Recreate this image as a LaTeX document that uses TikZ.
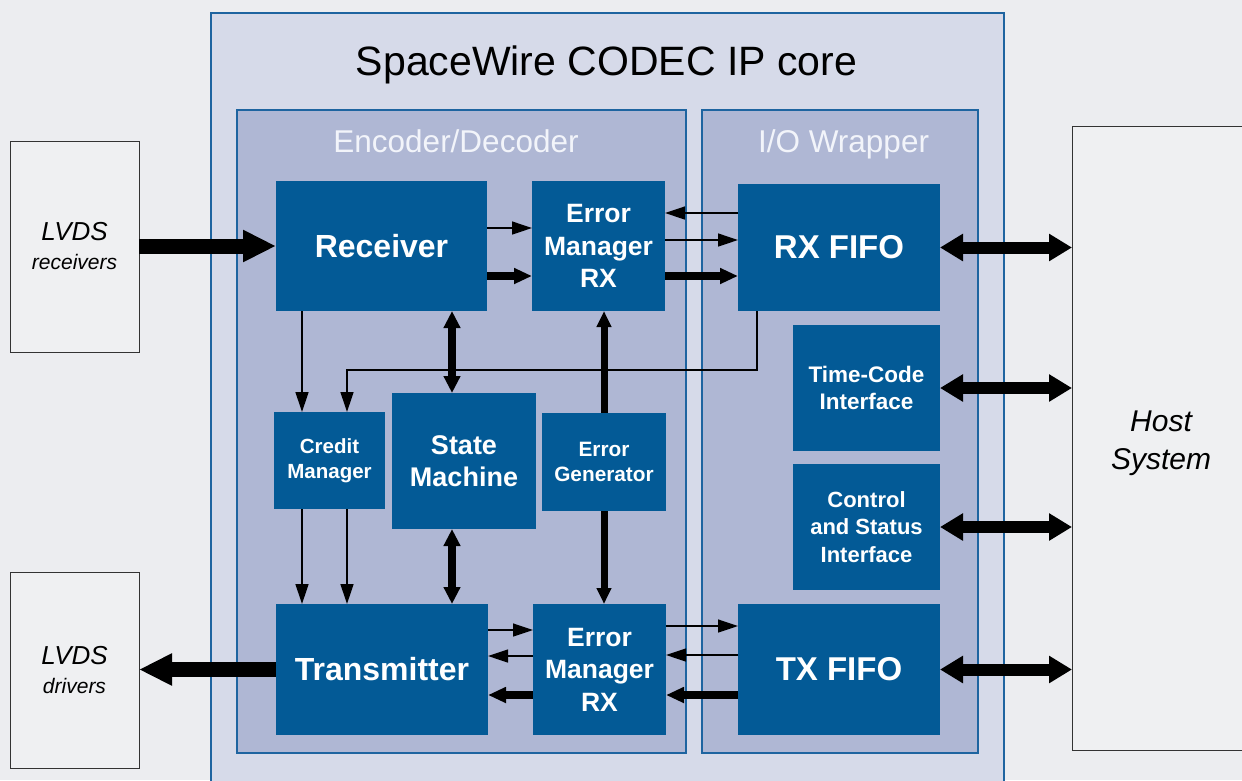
\documentclass[tikz,border=0pt]{standalone}
\usepackage{fontspec}
\setmainfont{Liberation Sans}
\usetikzlibrary{arrows.meta}
\definecolor{bgc}{RGB}{236,237,240}
\definecolor{corec}{RGB}{214,218,233}
\definecolor{innerc}{RGB}{175,183,212}
\definecolor{blkc}{RGB}{3,90,150}
\definecolor{edgec}{RGB}{30,100,160}
\definecolor{extc}{RGB}{239,240,242}
\definecolor{lblc}{RGB}{242,244,250}
\begin{document}
\begin{tikzpicture}[x=1pt,y=-1pt,
  blkbox/.style={fill=blkc, draw=none, text=white, align=center, inner sep=0pt, outer sep=0pt, anchor=north west},
  fs/.style 2 args={font=\fontsize{#1}{#2}\selectfont\bfseries},
  contbox/.style={draw=edgec, line width=1.4pt, inner sep=0pt, outer sep=0pt, anchor=north west},
  extbox/.style={draw=black!80, fill=extc, line width=1pt, inner sep=0pt, outer sep=0pt, anchor=north west, align=center},
  tn/.style={line width=1.3pt, -{Triangle[length=20pt,width=13pt]}},
  tk/.style={line width=8pt, -{Triangle[length=18pt,width=15pt]}},
  tkv/.style={line width=7pt, -{Triangle[length=16pt,width=14pt]}},
  vbi/.style={line width=8pt, {Triangle[length=17pt,width=16pt]}-{Triangle[length=17pt,width=16pt]}},
  hbi/.style={line width=12pt, {Triangle[length=23pt,width=26pt]}-{Triangle[length=23pt,width=26pt]}},
  fat/.style={line width=15pt, -{Triangle[length=33pt,width=30pt]}}
]
\path[use as bounding box] (0,0) rectangle (1242,780);
\clip (0,0) rectangle (1242,780);
\fill[bgc] (0,0) rectangle (1242,780);

% containers
\node[contbox, fill=corec, minimum width=793pt, minimum height=800pt] (core) at (211,13) {};
\node[contbox, fill=innerc, minimum width=449pt, minimum height=643pt] (encdec) at (237,110) {};
\node[contbox, fill=innerc, minimum width=276pt, minimum height=643pt] (iow) at (702,110) {};

\node[anchor=base, font=\fontsize{41}{45}\selectfont] (title) at (606.5,75) {SpaceWire CODEC IP core};
\node[anchor=base, text=lblc, font=\fontsize{31.5}{35}\selectfont] (encl) at (456,152) {Encoder/Decoder};
\node[anchor=base, text=lblc, font=\fontsize{31.5}{35}\selectfont] (iol) at (843.5,152) {I/O Wrapper};

% external boxes
\node[extbox, font=\fontsize{26}{29}\selectfont\itshape, minimum width=129pt, minimum height=211pt] (lvr) at (10,141)
  {LVDS\\{\fontsize{21}{29}\selectfont receivers}};
\node[extbox, font=\fontsize{26}{29}\selectfont\itshape, minimum width=129pt, minimum height=196pt] (lvd) at (10,572)
  {LVDS\\{\fontsize{21}{29}\selectfont drivers}};
\node[extbox, minimum width=180pt, minimum height=624pt] (host) at (1072,126) {};
\node[align=center, inner sep=0pt, font=\fontsize{30}{38}\selectfont\itshape] (hostlbl) at (1161,443) {Host\\System};

% blocks
\node[blkbox, fs={32}{36}, minimum width=211pt, minimum height=130pt] (rec) at (276,181) {Receiver};
\node[blkbox, fs={26.5}{32.5}, minimum width=133pt, minimum height=130pt] (emt) at (532,181) {Error\\Manager\\RX};
\node[blkbox, fs={33}{36}, minimum width=202pt, minimum height=127pt] (rxf) at (738,184) {RX FIFO};
\node[blkbox, fs={22.5}{27.5}, minimum width=147pt, minimum height=126pt] (tci) at (793,325) {Time-Code\\Interface};
\node[blkbox, fs={22}{27.3}, minimum width=147pt, minimum height=126pt] (csi) at (793,464) {Control\\and Status\\Interface};
\node[blkbox, fs={33}{36}, minimum width=202pt, minimum height=131pt] (txf) at (738,604) {TX FIFO};
\node[blkbox, fs={20.5}{25}, minimum width=111pt, minimum height=97pt] (cm) at (274,412) {Credit\\Manager};
\node[blkbox, fs={27}{32}, minimum width=144pt, minimum height=136pt] (sm) at (392,393) {State\\Machine};
\node[blkbox, fs={20.8}{25}, minimum width=124pt, minimum height=98pt] (eg) at (542,413) {Error\\Generator};
\node[blkbox, fs={32}{36}, minimum width=212pt, minimum height=131pt] (tx) at (276,604) {Transmitter};
\node[blkbox, fs={26.5}{32.5}, minimum width=133pt, minimum height=131pt] (emb) at (533,604) {Error\\Manager\\RX};

% top row connectors
\draw[tn] (rec.east |- 0,228) -- (emt.west |- 0,228);
\draw[tk] (rec.east |- 0,276) -- (emt.west |- 0,276);
\draw[tn] (rxf.west |- 0,213) -- (emt.east |- 0,213);
\draw[tn] (emt.east |- 0,240) -- (rxf.west |- 0,240);
\draw[tk] (emt.east |- 0,276) -- (rxf.west |- 0,276);

% bottom row connectors
\draw[tn] (tx.east |- 0,630) -- (emb.west |- 0,630);
\draw[tn] (emb.west |- 0,656) -- (tx.east |- 0,656);
\draw[tk] (emb.west |- 0,695) -- (tx.east |- 0,695);
\draw[tn] (emb.east |- 0,626) -- (txf.west |- 0,626);
\draw[tn] (txf.west |- 0,655) -- (emb.east |- 0,655);
\draw[tk] (txf.west |- 0,695) -- (emb.east |- 0,695);

% vertical connectors
\draw[vbi] (rec.south -| 452,0) -- (sm.north -| 452,0);
\draw[vbi] (sm.south -| 452,0) -- (tx.north -| 452,0);
\draw[tkv] (eg.north) -- (emt.south -| eg.north);
\draw[tkv] (eg.south) -- (emb.north -| eg.south);
\draw[tn] (rec.south -| 302,0) -- (cm.north -| 302,0);
\draw[tn] (cm.south -| 302,0) -- (tx.north -| 302,0);
\draw[tn] (cm.south -| 347,0) -- (tx.north -| 347,0);
\coordinate (b1) at (757,370);
\coordinate (b2) at (347,370);
\draw[tn] (rxf.south -| b1) -- (b1) -- (b2) -- (cm.north -| b2);

% external connectors
\draw[fat] (lvr.east |- rec.west) -- (rec.west);
\draw[fat] (tx.west) -- (lvd.east |- tx.west);
\draw[hbi] (rxf.east) -- (host.west |- rxf.east);
\draw[hbi] (tci.east) -- (host.west |- tci.east);
\draw[hbi] (csi.east) -- (host.west |- csi.east);
\draw[hbi] (txf.east) -- (host.west |- txf.east);
\end{tikzpicture}
\end{document}
